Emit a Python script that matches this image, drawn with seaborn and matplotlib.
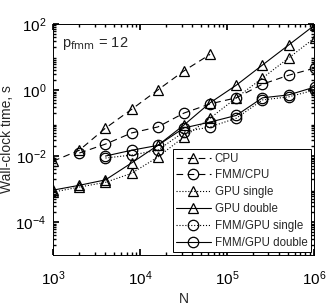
import numpy as np
import pandas as pd
import matplotlib
matplotlib.use("Agg")
import matplotlib.pyplot as plt
import seaborn as sns
from matplotlib.ticker import LogLocator, NullFormatter

# ── data ─────────────────────────────────────────────────────────────────────
N = [1000, 2000, 4000, 8000, 16000, 32000, 64000, 128000, 256000, 512000, 1024000]

cpu = [7.0e-3, 0.015, 0.07, 0.26, 1.0, 3.8, 12]
fmm_cpu = [0.0123, 0.023, 0.050, 0.076, 0.20, 0.38, 0.58, 1.5, 2.8, 4.6]
gpu_single = [8.1e-4, 1.15e-3, 1.6e-3, 3.0e-3, 9.3e-3, 0.038, 0.14, 0.58, 2.3, 9.3, 38]
gpu_double = [9.3e-4, 1.3e-3, 1.9e-3, 6.2e-3, 0.021, 0.087, 0.41, 1.4, 5.7, 23, 93]
fmm_gpu_single = [0.0087, 0.0107, 0.015, 0.054, 0.076, 0.14, 0.50, 0.62, 1.0]
fmm_gpu_double = [0.010, 0.015, 0.021, 0.071, 0.107, 0.17, 0.58, 0.71, 1.23]

SERIES = [
    ("CPU", N[:7], cpu, (0, (6, 4)), "^"),
    ("FMM/CPU", N[1:], fmm_cpu, (0, (6, 4)), "o"),
    ("GPU single", N, gpu_single, ":", "^"),
    ("GPU double", N, gpu_double, "-", "^"),
    ("FMM/GPU single", N[2:], fmm_gpu_single, ":", "o"),
    ("FMM/GPU double", N[2:], fmm_gpu_double, "-", "o"),
]

sns.set_theme(style="ticks")
plt.rcParams["font.family"] = ["Liberation Sans", "DejaVu Sans"]

fig = plt.figure(figsize=(3.28, 3.07), dpi=100)
ax = fig.add_axes([0.162, 0.169, 0.795, 0.753])

for name, xs, ys, ls, mk in SERIES:
    df = pd.DataFrame({"N": xs, "t": ys})
    sns.lineplot(data=df, x="N", y="t", ax=ax, color="black", linestyle=ls,
                 linewidth=0.8, marker=mk, markersize=7.5, markerfacecolor="none",
                 markeredgecolor="black", markeredgewidth=0.9, label=name)

ax.set_xscale("log")
ax.set_yscale("log")
ax.set_xlim(1e3, 1e6)
ax.set_ylim(1e-5, 1e2)
ax.set_xticks([1e3, 1e4, 1e5, 1e6])
ax.set_yticks([1e-4, 1e-2, 1e0, 1e2])
ax.xaxis.set_minor_locator(LogLocator(base=10, subs=np.arange(2, 10), numticks=20))
ax.yaxis.set_minor_locator(LogLocator(base=10, subs=np.arange(2, 10), numticks=20))
ax.xaxis.set_minor_formatter(NullFormatter())
ax.yaxis.set_minor_formatter(NullFormatter())
ax.tick_params(which="both", direction="in", top=True, right=True, colors="black")
ax.tick_params(which="major", length=4, labelsize=11)
ax.tick_params(which="minor", length=2)
ax.tick_params(axis="x", which="major", pad=10)
ax.tick_params(axis="y", which="major", pad=5)
for s in ax.spines.values():
    s.set_linewidth(0.7)
    s.set_color("black")

ax.set_xlabel("N", fontsize=10, labelpad=3)
ax.set_ylabel("Wall-clock time, s", fontsize=10, labelpad=1)

ax.text(0.035, 0.915, r"p$_{\rm fmm}$ = 12", transform=ax.transAxes,
        fontsize=10.5, ha="left", va="center")

leg = ax.legend(loc="lower right", fontsize=8.3, handlelength=3.0,
                fancybox=False, framealpha=1, edgecolor="black",
                borderpad=0.3, labelspacing=0.42, handletextpad=0.35,
                borderaxespad=0.25)
leg.get_frame().set_linewidth(0.7)

fig.savefig("out.png", dpi=100)
